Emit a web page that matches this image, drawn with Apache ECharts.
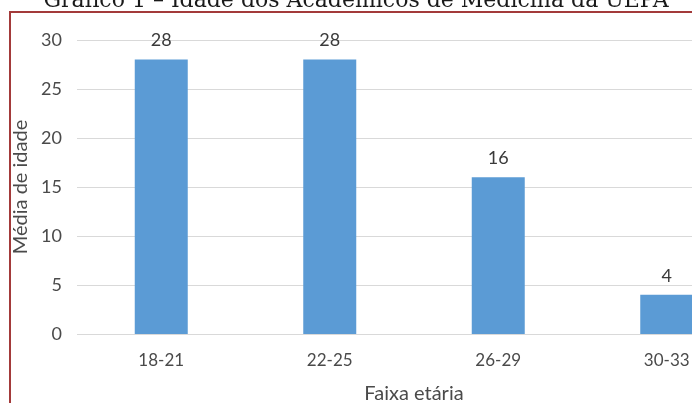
<!DOCTYPE html>
<html><head><meta charset="utf-8">
<script src="https://cdn.jsdelivr.net/npm/echarts@6/dist/echarts.min.js"></script>
<style>
html,body{margin:0;padding:0;overflow:hidden;background:#fff;width:692px;height:403px;position:relative}
#c{position:absolute;left:0;top:0;width:760px;height:403px}
</style>
</head><body><div id="c"></div>
<script>
const categories = ['18-21', '22-25', '26-29', '30-33'];
const values = [28, 28, 16, 4];
const yTicks = [0, 5, 10, 15, 20, 25, 30];
const titleText = 'Gráfico 1 – Idade dos Acadêmicos de Medicina da UEPA';
const xName = 'Faixa etária';
const yName = 'Média de idade';

const font = 'Lato, "Open Sans", sans-serif';
const chart = echarts.init(document.getElementById('c'), null, {renderer: 'canvas', width: 760, height: 403});
chart.setOption({
  animation: false,
  backgroundColor: '#fff',
  graphic: [{
    type: 'text', x: 356, y: 1, z: 10,
    style: {text: titleText, align: 'center', verticalAlign: 'middle',
      font: '22px "DejaVu Serif", "Liberation Serif", serif', fill: '#1a1a1a'}
  }, {
    type: 'rect', shape: {x: 10, y: 12, width: 760, height: 420},
    style: {fill: null, stroke: '#a33a3a', lineWidth: 2}, z: 10
  }],
  grid: {left: 77, right: 9, top: 40, bottom: 69, containLabel: false, outerBoundsMode: 'none'},
  xAxis: {
    type: 'category', data: categories,
    axisLine: {show: false}, axisTick: {show: false},
    axisLabel: {color: '#4a4a4a', fontSize: 17, fontFamily: font, margin: 18},
    name: xName, nameLocation: 'middle', nameGap: 50,
    nameTextStyle: {color: '#4a4a4a', fontSize: 20, fontFamily: font}
  },
  yAxis: {
    type: 'value', min: yTicks[0], max: yTicks[yTicks.length - 1], interval: 5,
    axisLine: {show: false}, axisTick: {show: false},
    axisLabel: {color: '#4a4a4a', fontSize: 18, fontFamily: font, margin: 15},
    splitLine: {lineStyle: {color: '#d9d9d9', width: 1}},
    name: yName, nameLocation: 'middle', nameGap: 45,
    nameTextStyle: {color: '#4a4a4a', fontSize: 20, fontFamily: font}
  },
  series: [{
    type: 'bar', data: values, barWidth: 53,
    itemStyle: {color: '#5b9bd5'},
    label: {show: true, position: 'top', distance: 10, color: '#3a3a3a', fontSize: 18, fontFamily: font}
  }]
});
</script></body></html>
